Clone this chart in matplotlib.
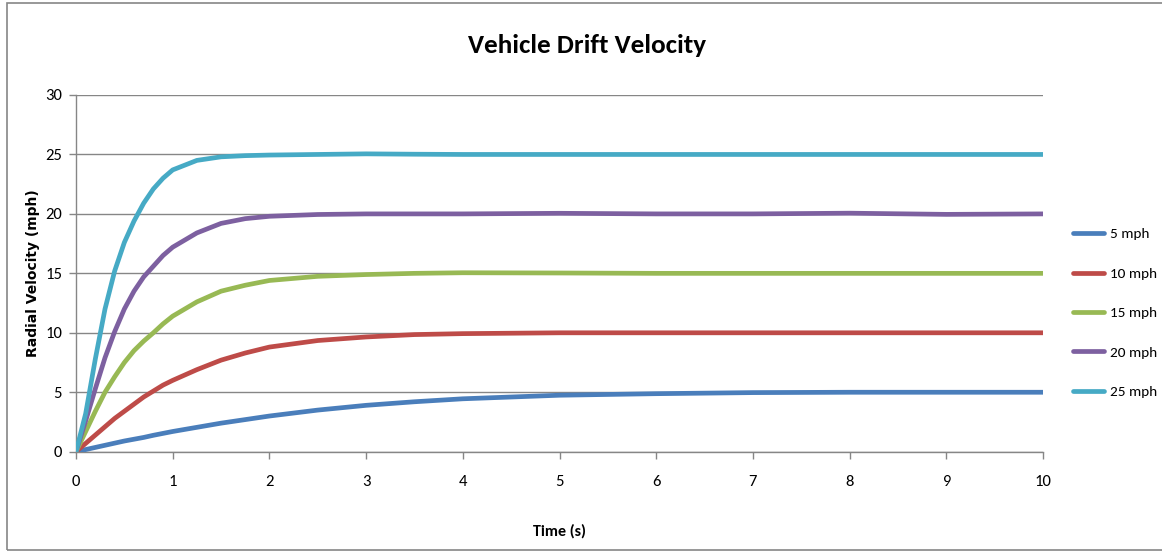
import matplotlib
matplotlib.use('Agg')
import matplotlib.pyplot as plt
from matplotlib.patches import Rectangle

# time (s)
t = [0, 0.1, 0.2, 0.3, 0.4, 0.5, 0.6, 0.7, 0.8, 0.9, 1.0, 1.25, 1.5, 1.75, 2, 2.5, 3, 3.5, 4, 5, 6, 7, 8, 9, 10]

# radial velocity (mph)
v5 = [0, 0.18, 0.36, 0.54, 0.72, 0.9, 1.05, 1.2, 1.38, 1.54, 1.7, 2.05, 2.4, 2.7, 3.0, 3.5, 3.9, 4.2, 4.45, 4.75, 4.88, 4.97, 5.0, 5.0, 5.0]
v10 = [0, 0.7, 1.4, 2.1, 2.8, 3.4, 4.0, 4.6, 5.1, 5.6, 6.0, 6.9, 7.7, 8.3, 8.8, 9.35, 9.65, 9.85, 9.93, 10.0, 10.0, 10.0, 10.0, 10.0, 10.0]
v15 = [0, 1.7, 3.4, 5.0, 6.3, 7.5, 8.5, 9.3, 10.0, 10.75, 11.4, 12.6, 13.5, 14.0, 14.4, 14.75, 14.9, 15.0, 15.05, 15.03, 15.0, 15.0, 15.0, 15.0, 15.0]
v20 = [0, 2.6, 5.3, 7.9, 10.1, 12.0, 13.5, 14.7, 15.6, 16.5, 17.2, 18.4, 19.2, 19.6, 19.8, 19.95, 20.0, 20.0, 20.0, 20.05, 20.0, 20.0, 20.06, 19.96, 20.0]
v25 = [0, 3.2, 7.8, 12.0, 15.2, 17.6, 19.4, 20.9, 22.1, 23.0, 23.7, 24.5, 24.8, 24.9, 24.95, 25.0, 25.05, 25.02, 25.0, 25.0, 25.0, 25.0, 25.0, 25.0, 25.0]

series = [v5, v10, v15, v20, v25]
labels = ['5 mph', '10 mph', '15 mph', '20 mph', '25 mph']
colors = ['#4A7EBB', '#BE4B48', '#98B954', '#7D60A0', '#46AAC5']

calibri = ['Carlito', 'DejaVu Sans']

fig = plt.figure(figsize=(11.62, 5.52), dpi=100)
ax = fig.add_axes([0.0654, 0.1817, 0.8322, 0.6462])

for vals, lab, c in zip(series, labels, colors):
    ax.plot(t, vals, color=c, lw=3.4, label=lab, solid_capstyle='round',
            solid_joinstyle='round', zorder=3)

ax.set_xlim(0, 10)
ax.set_ylim(0, 30)
ax.set_xticks(range(0, 11))
ax.set_yticks(range(0, 31, 5))

ax.yaxis.grid(True, color='#868686', lw=1.0)
ax.set_axisbelow(True)

for s in ['top', 'right']:
    ax.spines[s].set_visible(False)
for s in ['left', 'bottom']:
    ax.spines[s].set_color('#868686')
    ax.spines[s].set_linewidth(1.0)

ax.tick_params(axis='both', direction='out', length=5, width=1.0, color='#868686',
               labelsize=12)
ax.tick_params(axis='x', pad=12)
ax.tick_params(axis='y', pad=5)
for lbl in ax.get_xticklabels() + ax.get_yticklabels():
    lbl.set_family(calibri)

ax.set_xlabel('Time (s)', family=calibri, fontweight='bold', fontsize=11.5, va='center')
ax.xaxis.set_label_coords(0.5, -0.222)
ax.set_ylabel('Radial Velocity (mph)', family='DejaVu Sans', fontweight='bold', fontsize=10, va='center')
ax.yaxis.set_label_coords(-0.0445, 0.5)

fig.text(0.505, 0.918, 'Vehicle Drift Velocity', family=calibri, fontweight='bold',
         fontsize=19.5, ha='center', va='center')

leg = fig.legend(loc='center left', bbox_to_anchor=(1073 / 1162, 1 - 313 / 552), frameon=False,
                 borderpad=0, borderaxespad=0, handlelength=2.05, handletextpad=0.35,
                 labelspacing=1.75, prop={'family': calibri, 'size': 11})

# outer chart border
fig.patches.append(Rectangle((7 / 1162, 2 / 552), 1.1, 547 / 552, transform=fig.transFigure,
                             fill=False, ec='#868686', lw=1.2))

fig.savefig('out.png', dpi=100)
